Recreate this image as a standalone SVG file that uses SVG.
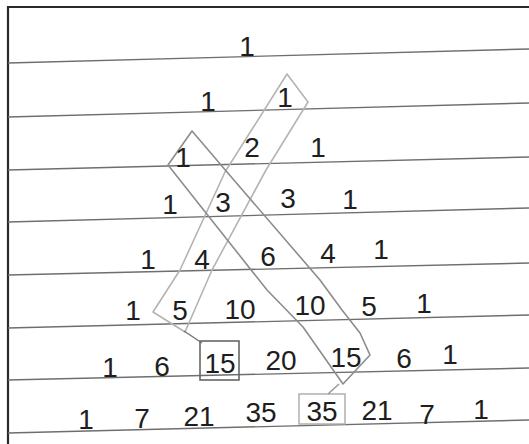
<svg xmlns="http://www.w3.org/2000/svg" width="529" height="444" viewBox="0 0 529 444">
<style>
.rule{stroke:#6e6e6e;stroke-width:1.4;fill:none}
.frame{stroke:#2a2a2a;stroke-width:2.2;fill:none}
.band{fill:none;stroke-width:1.6;stroke-linejoin:round}
.n{font-family:"Liberation Sans",Arial,sans-serif;font-size:28px;fill:#1e1e1e;text-anchor:middle}
</style>
<rect width="529" height="444" fill="#ffffff"/>
<g id="paper">
<path class="frame" d="M8,444 V7 H529"/>
<g class="rules">
<line class="rule" x1="8" y1="63" x2="529" y2="49"/>
<line class="rule" x1="8" y1="117" x2="529" y2="103"/>
<line class="rule" x1="8" y1="170" x2="529" y2="157"/>
<line class="rule" x1="8" y1="222" x2="529" y2="208"/>
<line class="rule" x1="8" y1="275" x2="529" y2="263"/>
<line class="rule" x1="8" y1="328" x2="529" y2="315"/>
<line class="rule" x1="8" y1="380" x2="529" y2="368"/>
<line class="rule" x1="8" y1="433" x2="529" y2="420"/>
</g>
</g>
<g id="band-a">
<path class="band" stroke="#b4b4b4" d="M287,74 L308,102 L266,170 L212,270 L185,332 L153,312 L180,270 L225,172 Z"/>
</g>
<g id="band-b">
<path class="band" stroke="#8c8c8c" d="M192,131 L227,172 L320,280 L342,310 L360,333 L370,355 L343,384 L303,327 L267,290 L168,165 Z"/>
</g>
<g id="box-15">
<rect x="200" y="341" width="39" height="39" fill="none" stroke="#666" stroke-width="1.6"/>
</g>
<g id="box-35">
<rect x="299" y="394" width="46" height="30" fill="none" stroke="#aaa" stroke-width="1.4"/>
</g>
<g id="connectors">
<line x1="184" y1="331" x2="202" y2="343" stroke="#777" stroke-width="1.5"/>
<line x1="339" y1="384" x2="328" y2="394" stroke="#999" stroke-width="1.5"/>
</g>
<g id="row0"><text class="n" x="247" y="56">1</text></g>
<g id="row1"><text class="n" x="208" y="111">1</text><text class="n" x="285" y="107">1</text></g>
<g id="row2"><text class="n" x="183" y="167">1</text><text class="n" x="252" y="157">2</text><text class="n" x="318" y="157">1</text></g>
<g id="row3"><text class="n" x="170" y="214">1</text><text class="n" x="223" y="212">3</text><text class="n" x="288" y="208">3</text><text class="n" x="350" y="209">1</text></g>
<g id="row4"><text class="n" x="148" y="269">1</text><text class="n" x="202" y="269">4</text><text class="n" x="268" y="266">6</text><text class="n" x="328" y="263">4</text><text class="n" x="381" y="259">1</text></g>
<g id="row5"><text class="n" x="133" y="320">1</text><text class="n" x="180" y="320">5</text><text class="n" x="240" y="319">10</text><text class="n" x="310" y="315">10</text><text class="n" x="369" y="316">5</text><text class="n" x="424" y="313">1</text></g>
<g id="row6"><text class="n" x="110" y="377">1</text><text class="n" x="162" y="376">6</text><text class="n" x="220" y="373">15</text><text class="n" x="281" y="370">20</text><text class="n" x="346" y="367">15</text><text class="n" x="404" y="368">6</text><text class="n" x="450" y="364">1</text></g>
<g id="row7"><text class="n" x="86" y="429">1</text><text class="n" x="142" y="428">7</text><text class="n" x="199" y="426">21</text><text class="n" x="261" y="422">35</text><text class="n" x="322" y="421">35</text><text class="n" x="377" y="420">21</text><text class="n" x="427" y="424">7</text><text class="n" x="481" y="419">1</text></g>
</svg>
